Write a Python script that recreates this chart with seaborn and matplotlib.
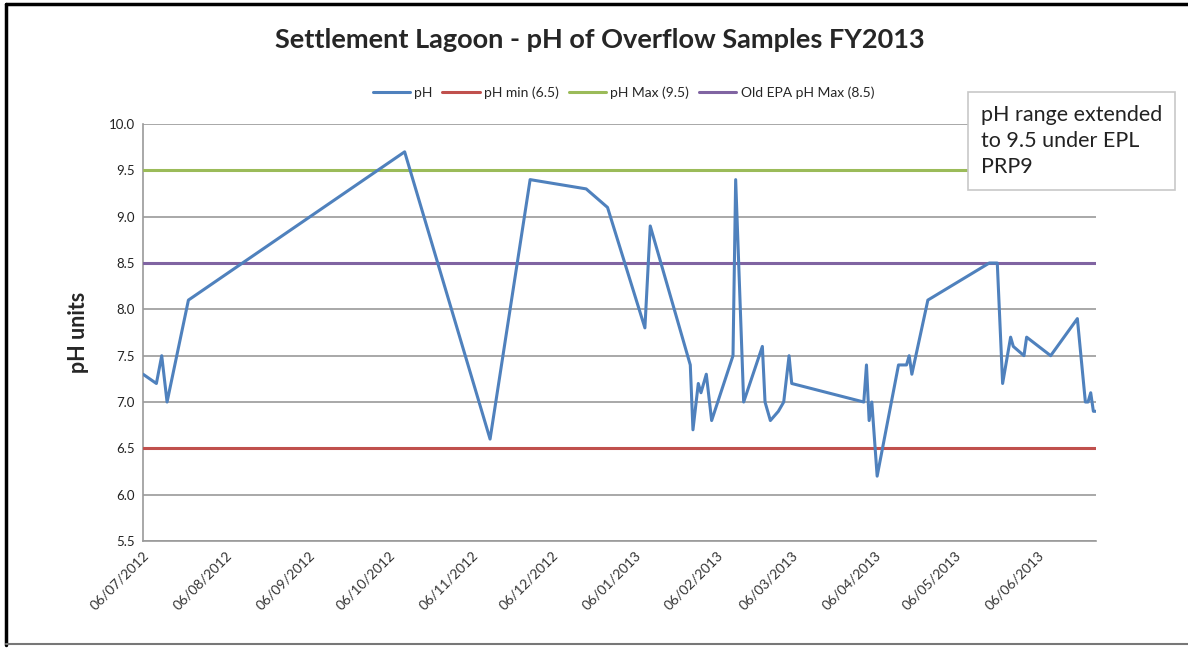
import matplotlib
matplotlib.use("Agg")
import matplotlib.pyplot as plt
import matplotlib.dates as mdates
import seaborn as sns
import pandas as pd

# pH of overflow samples
sample_dates = [
    "2012-07-06", "2012-07-11", "2012-07-13", "2012-07-15", "2012-07-23",
    "2012-10-12", "2012-11-13", "2012-11-28", "2012-12-19", "2012-12-27",
    "2013-01-10", "2013-01-12", "2013-01-27", "2013-01-28", "2013-01-30",
    "2013-01-31", "2013-02-02", "2013-02-04", "2013-02-12", "2013-02-13",
    "2013-02-16", "2013-02-23", "2013-02-24", "2013-02-26", "2013-03-01",
    "2013-03-03", "2013-03-05", "2013-03-06", "2013-04-02", "2013-04-03",
    "2013-04-04", "2013-04-05", "2013-04-07", "2013-04-15", "2013-04-18",
    "2013-04-19", "2013-04-20", "2013-04-26", "2013-05-19", "2013-05-22",
    "2013-05-24", "2013-05-27", "2013-05-28", "2013-06-01", "2013-06-02",
    "2013-06-11", "2013-06-21", "2013-06-23", "2013-06-24", "2013-06-25",
    "2013-06-26", "2013-06-27", "2013-06-28",
]
ph_values = [
    7.3, 7.2, 7.5, 7.0, 8.1,
    9.7, 6.6, 9.4, 9.3, 9.1,
    7.8, 8.9, 7.4, 6.7, 7.2,
    7.1, 7.3, 6.8, 7.5, 9.4,
    7.0, 7.6, 7.0, 6.8, 6.9,
    7.0, 7.5, 7.2, 7.0, 7.4,
    6.8, 7.0, 6.2, 7.4, 7.4,
    7.5, 7.3, 8.1, 8.5, 8.5,
    7.2, 7.7, 7.6, 7.5, 7.7,
    7.5, 7.9, 7.3, 7.0, 7.0,
    7.1, 6.9, 6.9,
]

limit_labels = ["pH min (6.5)", "pH Max (9.5)", "Old EPA pH Max (8.5)"]
limit_values = [6.5, 9.5, 8.5]
limit_colors = ["#C0504D", "#9BBB59", "#8064A2"]
ph_color = "#4F81BD"

y_ticks = [5.5, 6.0, 6.5, 7.0, 7.5, 8.0, 8.5, 9.0, 9.5, 10.0]

df = pd.DataFrame({"date": pd.to_datetime(sample_dates), "pH": ph_values})

sns.set_theme(style="white")
plt.rcParams["font.family"] = ["Lato", "DejaVu Sans"]

fig = plt.figure(figsize=(11.88, 6.48), dpi=100)
ax = fig.add_axes([0.1204, 0.1651, 0.8022, 0.6435])

sns.lineplot(data=df, x="date", y="pH", ax=ax, color=ph_color, lw=2.2,
             label="pH", zorder=4)
for lab, val, col in zip(limit_labels, limit_values, limit_colors):
    ax.axhline(val, color=col, lw=2.2, label=lab, zorder=3)

ax.set_xlim(pd.Timestamp("2012-07-06"), pd.Timestamp("2013-06-28"))
ax.set_ylim(5.5, 10.0)
ax.set_yticks(y_ticks)
ax.set_yticklabels([f"{v:.1f}" for v in y_ticks], fontsize=9.5, color="#222222")
ax.yaxis.grid(True, color="#9a9a9a", lw=1.2)
ax.set_axisbelow(True)

ax.xaxis.set_major_locator(mdates.MonthLocator(bymonthday=6))
ax.xaxis.set_major_formatter(mdates.DateFormatter("%d/%m/%Y"))
plt.setp(ax.get_xticklabels(), rotation=45, ha="right", rotation_mode="anchor",
         fontsize=10, color="#333333")
ax.tick_params(axis="both", length=0, pad=6)

ax.set_xlabel("")
ax.set_ylabel("pH units", fontsize=15.5, fontweight="bold", labelpad=14)

for s in ["top", "right"]:
    ax.spines[s].set_visible(False)
for s in ["left", "bottom"]:
    ax.spines[s].set_color("#9a9a9a")
    ax.spines[s].set_linewidth(1.2)

ax.legend(loc="lower center", bbox_to_anchor=(0.504, 1.03), ncol=4, frameon=False,
          fontsize=10, handlelength=2.7, columnspacing=0.7, handletextpad=0.3)

fig.text(0.505, 0.938, "Settlement Lagoon - pH of Overflow Samples FY2013",
         ha="center", va="center", fontsize=19.5, fontweight="bold")

fig.text(0.8255, 0.782, "pH range extended\nto 9.5 under EPL\nPRP9",
         ha="left", va="center", fontsize=15.5, color="#222222", linespacing=1.38,
         bbox=dict(boxstyle="square,pad=0.6", fc="white", ec="#c8c8c8", lw=1.2),
         zorder=10)

# outer chart frame
fig.add_artist(plt.Line2D([0.005, 0.005], [0.005, 0.994], color="black", lw=2.5,
                          transform=fig.transFigure))
fig.add_artist(plt.Line2D([0.005, 1.0], [0.994, 0.994], color="black", lw=2.5,
                          transform=fig.transFigure))
fig.add_artist(plt.Line2D([0.005, 1.0], [0.006, 0.006], color="#777777", lw=1.5,
                          transform=fig.transFigure))

fig.savefig("out.png", dpi=100)
